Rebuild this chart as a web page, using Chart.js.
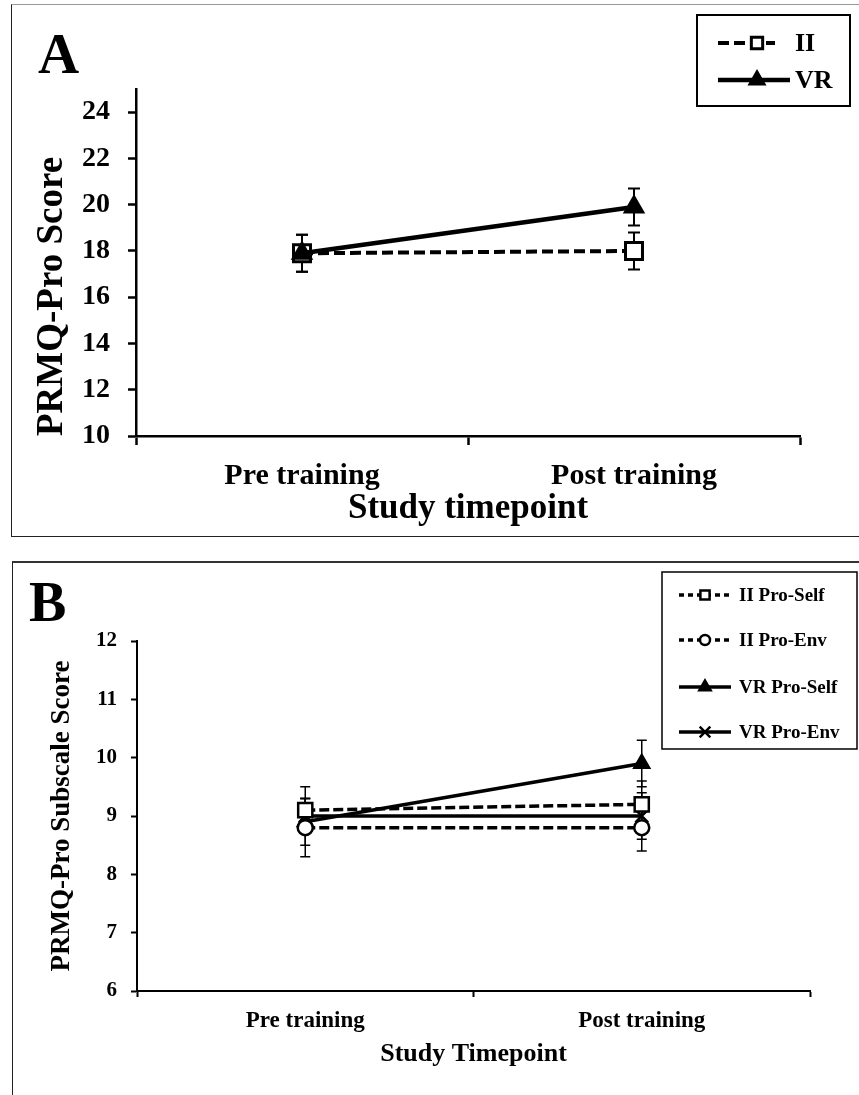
<!DOCTYPE html>
<html>
<head>
<meta charset="utf-8">
<script src="https://cdn.jsdelivr.net/npm/chart.js@4.4.0/dist/chart.umd.min.js"></script>
<style>
  body { margin: 0; width: 859px; height: 1095px; overflow: hidden; background: #fff; position: relative;
         font-family: "Liberation Serif", "Times New Roman", serif; }
  .panel { position: absolute; border-left: 1.5px solid #222; border-right: none; }
  #panelA { left: 11px; top: 4px; width: 900px; height: 531px; border-top: 1.5px solid #999; border-bottom: 1.5px solid #222; }
  #panelB { left: 12px; top: 561px; width: 900px; height: 600px; border-top: 2px solid #333; }
  .letter { position: absolute; font-weight: bold; line-height: 1; color: #000; }
  #letterA { left: 38px; top: 25px; font-size: 57px; }
  #letterB { left: 29px; top: 574px; font-size: 56px; }
  #wrapA { position: absolute; left: 0; top: 0; }
  #wrapB { position: absolute; left: 0; top: 562px; }
</style>
</head>
<body>
<div class="panel" id="panelA"></div>
<div class="panel" id="panelB"></div>
<div id="wrapA"><canvas id="chartA" width="859" height="540"></canvas></div>
<div id="wrapB"><canvas id="chartB" width="859" height="533"></canvas></div>
<div class="letter" id="letterA">A</div>
<div class="letter" id="letterB">B</div>
<script>
var fontFamily = "'Liberation Serif', 'Times New Roman', serif";

var categories = ['Pre training', 'Post training'];

// panel A
var meanII = [17.9, 18.0];
var errII = [0.8, 0.8];
var meanVR = [17.9, 19.9];
var errVR = [0.8, 0.8];
var ticksA = [10, 12, 14, 16, 18, 20, 22, 24];

// panel B
var iiSelf = [9.1, 9.2];
var iiSelfErr = [0.4, 0.4];
var iiEnv = [8.8, 8.8];
var iiEnvErr = [0.5, 0.4];
var vrSelf = [8.9, 9.9];
var vrSelfErr = [0.4, 0.4];
var vrEnv = [9.0, 9.0];
var vrEnvErr = [0.3, 0.4];
var ticksB = [6, 7, 8, 9, 10, 11, 12];

// vertical error bars with caps, drawn under the lines
var errorBars = {
    id: 'errorBars',
    beforeDatasetsDraw: function (chart, args, opts) {
        var ctx = chart.ctx;
        var y = chart.scales.y;
        chart.data.datasets.forEach(function (ds, i) {
            if (!ds.errors) return;
            chart.getDatasetMeta(i).data.forEach(function (pt, j) {
                var top = y.getPixelForValue(ds.data[j] + ds.errors[j]);
                var bot = y.getPixelForValue(ds.data[j] - ds.errors[j]);
                ctx.save();
                ctx.strokeStyle = '#000';
                ctx.lineWidth = opts.width;
                ctx.beginPath();
                ctx.moveTo(pt.x, top); ctx.lineTo(pt.x, bot);
                ctx.moveTo(pt.x - opts.cap, top); ctx.lineTo(pt.x + opts.cap, top);
                ctx.moveTo(pt.x - opts.cap, bot); ctx.lineTo(pt.x + opts.cap, bot);
                ctx.stroke();
                ctx.restore();
            });
        });
    }
};

// boxed legend with line + marker samples
var boxLegend = {
    id: 'boxLegend',
    afterDraw: function (chart, args, o) {
        var ctx = chart.ctx;
        ctx.save();
        ctx.strokeStyle = '#000';
        ctx.lineWidth = o.boxWidth;
        ctx.strokeRect(o.x, o.y, o.w, o.h);
        chart.data.datasets.forEach(function (ds, i) {
            var row = o.rows[i];
            ctx.strokeStyle = '#000';
            ctx.lineWidth = ds.borderWidth;
            ctx.setLineDash(ds.borderDash ? o.dash : []);
            ctx.beginPath();
            ctx.moveTo(o.x1, row.y);
            ctx.lineTo(row.x2, row.y);
            ctx.stroke();
            ctx.setLineDash([]);
            ctx.fillStyle = ds.pointBackgroundColor;
            ctx.lineWidth = ds.pointBorderWidth;
            Chart.helpers.drawPoint(ctx, {
                pointStyle: ds.pointStyle, radius: ds.legendRadius, rotation: 0, borderWidth: ds.pointBorderWidth
            }, o.mx, row.y);
            ctx.fillStyle = '#000';
            ctx.font = o.font;
            ctx.textBaseline = 'middle';
            ctx.textAlign = 'left';
            ctx.fillText(ds.label, o.tx, row.y + 1);
        });
        ctx.restore();
    }
};

function axisX(size, titleText, titleSize, tickLen, padding, height, lineW) {
    return {
        offset: true,
        grid: { offset: true, drawOnChartArea: false, tickLength: tickLen, tickWidth: lineW, tickColor: '#000' },
        border: { color: '#000', width: lineW },
        ticks: { color: '#000', font: { family: fontFamily, size: size, weight: 'bold' }, padding: padding, maxRotation: 0 },
        title: { display: true, text: titleText, color: '#000', padding: 0,
                 font: { family: fontFamily, size: titleSize, weight: 'bold' } },
        afterFit: function (s) { s.height = height; }
    };
}

function axisY(min, max, tickList, size, titleText, titleSize, align, tickLen, padding, width, lineW) {
    return {
        min: min, max: max,
        afterBuildTicks: function (s) { s.ticks = tickList.map(function (v) { return { value: v }; }); },
        grid: { drawOnChartArea: false, tickLength: tickLen, tickWidth: lineW, tickColor: '#000' },
        border: { color: '#000', width: lineW },
        ticks: { color: '#000', font: { family: fontFamily, size: size, weight: 'bold' }, padding: padding },
        title: { display: true, text: titleText, color: '#000', padding: 0, align: align,
                 font: { family: fontFamily, size: titleSize, weight: 'bold' } },
        afterFit: function (s) { s.width = width; }
    };
}

new Chart(document.getElementById('chartA'), {
    type: 'line',
    data: {
        labels: categories,
        datasets: [{
            label: 'II', data: meanII, errors: errII, order: 1,
            borderColor: '#000', borderWidth: 4, borderDash: [11, 5],
            pointStyle: 'rect', pointRadius: 12, pointBackgroundColor: '#fff',
            pointBorderColor: '#000', pointBorderWidth: 3, legendRadius: 8
        }, {
            label: 'VR', data: meanVR, errors: errVR, order: 0,
            borderColor: '#000', borderWidth: 4.5,
            pointStyle: 'triangle', pointRadius: 11, pointBackgroundColor: '#000',
            pointBorderColor: '#000', pointBorderWidth: 2, legendRadius: 9
        }]
    },
    options: {
        responsive: false, animation: false, events: [],
        layout: { padding: { left: 30, top: 89, right: 59, bottom: 10 } },
        plugins: {
            legend: { display: false }, tooltip: { enabled: false },
            errorBars: { width: 2, cap: 6 },
            boxLegend: {
                x: 697, y: 15, w: 153, h: 91, boxWidth: 2, dash: [11, 5],
                rows: [{ y: 43, x2: 775 }, { y: 80, x2: 790 }],
                x1: 718, mx: 757, tx: 795, font: 'bold 26px ' + fontFamily
            }
        },
        scales: {
            x: axisX(30, 'Study timepoint', 35, 9, 13, 94, 2.5),
            y: axisY(10, 25, ticksA, 28, 'PRMQ-Pro Score', 37, 'start', 8, 18, 106, 2.5)
        }
    },
    plugins: [errorBars, boxLegend]
});

new Chart(document.getElementById('chartB'), {
    type: 'line',
    data: {
        labels: categories,
        datasets: [{
            label: 'II Pro-Self', data: iiSelf, errors: iiSelfErr,
            borderColor: '#000', borderWidth: 3.5, borderDash: [10, 4],
            pointStyle: 'rect', pointRadius: 10, pointBackgroundColor: '#fff',
            pointBorderColor: '#000', pointBorderWidth: 2.5, legendRadius: 6.5
        }, {
            label: 'II Pro-Env', data: iiEnv, errors: iiEnvErr,
            borderColor: '#000', borderWidth: 3.5, borderDash: [10, 4],
            pointStyle: 'circle', pointRadius: 7.5, pointBackgroundColor: '#fff',
            pointBorderColor: '#000', pointBorderWidth: 2.5, legendRadius: 5
        }, {
            label: 'VR Pro-Self', data: vrSelf, errors: vrSelfErr,
            borderColor: '#000', borderWidth: 3.5,
            pointStyle: 'triangle', pointRadius: 9.5, pointBackgroundColor: '#000',
            pointBorderColor: '#000', pointBorderWidth: 1.5, legendRadius: 7.5
        }, {
            label: 'VR Pro-Env', data: vrEnv, errors: vrEnvErr,
            borderColor: '#000', borderWidth: 3.5,
            pointStyle: 'crossRot', pointRadius: 9, pointBackgroundColor: '#000',
            pointBorderColor: '#000', pointBorderWidth: 2.5, legendRadius: 7.5
        }]
    },
    options: {
        responsive: false, animation: false, events: [],
        layout: { padding: { left: 46, top: 79, right: 49, bottom: 25 } },
        plugins: {
            legend: { display: false }, tooltip: { enabled: false },
            errorBars: { width: 1.5, cap: 5 },
            boxLegend: {
                x: 662, y: 10, w: 195, h: 177, boxWidth: 1.5, dash: [5, 4],
                rows: [{ y: 33, x2: 731 }, { y: 78, x2: 731 }, { y: 125, x2: 731 }, { y: 170, x2: 731 }],
                x1: 679, mx: 705, tx: 739, font: 'bold 19px ' + fontFamily
            }
        },
        scales: {
            x: axisX(23, 'Study Timepoint', 26, 6, 10, 79, 2),
            y: axisY(6, 12, ticksB, 21, 'PRMQ-Pro Subscale Score', 27, 'center', 6, 14, 91, 2)
        }
    },
    plugins: [errorBars, boxLegend]
});
</script>
</body>
</html>
